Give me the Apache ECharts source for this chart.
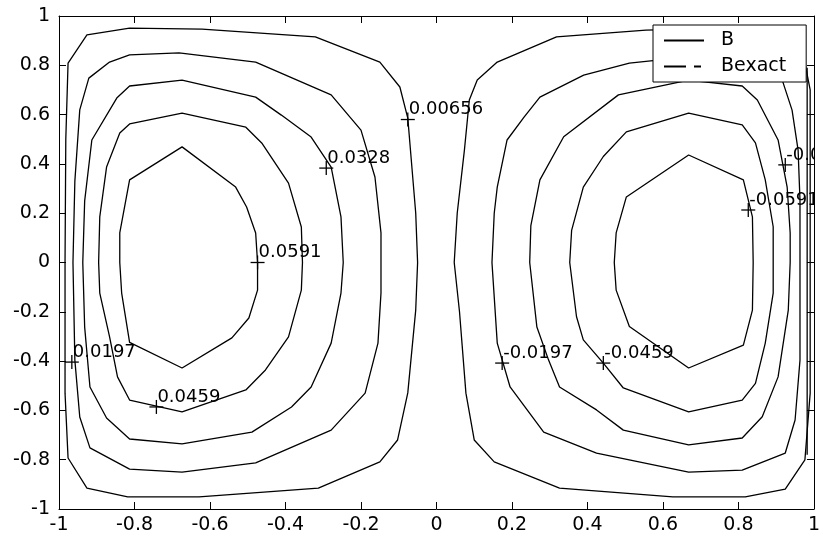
<!DOCTYPE html>
<html><head><meta charset="utf-8">
<script src="https://cdn.jsdelivr.net/npm/echarts@6/dist/echarts.min.js"></script>
<style>html,body{margin:0;padding:0;background:#fff}#c{width:823px;height:538px}</style>
</head><body><div id="c"></div>
<script>
// Tick labels
const xTickLabels = ['-1','-0.8','-0.6','-0.4','-0.2','0','0.2','0.4','0.6','0.8','1'];
const yTickLabels = ['-1','-0.8','-0.6','-0.4','-0.2','0','0.2','0.4','0.6','0.8','1'];

// Contour levels (left: positive, right: negative)
const levels = [0.00656, 0.0197, 0.0328, 0.0459, 0.0591];

// Left contours (B = +level)
const cL1 = [[-0.984,0],[-0.982,0.5],[-0.976,0.809],[-0.926,0.923],[-0.813,0.951],[-0.621,0.947],[-0.321,0.915],[-0.15,0.813],[-0.097,0.712],[-0.076,0.586],[-0.055,0.201],[-0.05,0],[-0.055,-0.193],[-0.076,-0.529],[-0.103,-0.72],[-0.15,-0.809],[-0.313,-0.915],[-0.629,-0.951],[-0.818,-0.951],[-0.926,-0.915],[-0.976,-0.793],[-0.984,-0.53],[-0.984,0]];
const cL2 = [[-0.963,0],[-0.958,0.33],[-0.945,0.619],[-0.921,0.748],[-0.866,0.813],[-0.813,0.842],[-0.682,0.85],[-0.479,0.813],[-0.279,0.68],[-0.2,0.537],[-0.163,0.347],[-0.147,0.12],[-0.147,0],[-0.147,-0.124],[-0.155,-0.327],[-0.189,-0.53],[-0.279,-0.68],[-0.479,-0.813],[-0.674,-0.85],[-0.813,-0.838],[-0.918,-0.752],[-0.945,-0.627],[-0.958,-0.396],[-0.963,0]];
const cL3 = [[-0.937,0],[-0.932,0.25],[-0.913,0.497],[-0.847,0.667],[-0.813,0.716],[-0.674,0.74],[-0.479,0.671],[-0.411,0.598],[-0.332,0.509],[-0.279,0.387],[-0.253,0.185],[-0.247,0],[-0.253,-0.124],[-0.279,-0.327],[-0.332,-0.505],[-0.384,-0.586],[-0.489,-0.688],[-0.674,-0.736],[-0.813,-0.716],[-0.874,-0.631],[-0.918,-0.505],[-0.932,-0.262],[-0.937,0]];
const cL4 = [[-0.895,0],[-0.892,0.185],[-0.874,0.387],[-0.839,0.525],[-0.813,0.562],[-0.674,0.606],[-0.505,0.549],[-0.463,0.485],[-0.392,0.322],[-0.358,0.144],[-0.355,0],[-0.358,-0.112],[-0.392,-0.302],[-0.453,-0.436],[-0.505,-0.517],[-0.674,-0.606],[-0.813,-0.558],[-0.845,-0.464],[-0.866,-0.302],[-0.892,-0.124],[-0.895,0]];
const cL5 = [[-0.839,0],[-0.839,0.12],[-0.813,0.335],[-0.674,0.469],[-0.532,0.306],[-0.503,0.225],[-0.479,0.12],[-0.474,0],[-0.474,-0.112],[-0.497,-0.225],[-0.542,-0.306],[-0.674,-0.428],[-0.813,-0.324],[-0.834,-0.124],[-0.839,0]];

// Right contours (B = -level)
const cR1 = [[0.047,0],[0.055,0.201],[0.074,0.456],[0.087,0.659],[0.108,0.74],[0.161,0.813],[0.318,0.915],[0.555,0.943],[0.74,0.95],[0.926,0.923],[0.976,0.809],[0.99,0.7],[0.99,0],[0.99,-0.53],[0.976,-0.801],[0.924,-0.919],[0.818,-0.951],[0.626,-0.951],[0.326,-0.915],[0.153,-0.809],[0.1,-0.72],[0.078,-0.53],[0.061,-0.2],[0.047,0]];
const cR2 = [[0.147,0],[0.153,0.2],[0.161,0.306],[0.187,0.497],[0.232,0.59],[0.274,0.671],[0.39,0.76],[0.511,0.809],[0.668,0.834],[0.81,0.84],[0.866,0.813],[0.916,0.74],[0.942,0.618],[0.958,0.456],[0.963,0.253],[0.963,0],[0.963,-0.396],[0.95,-0.639],[0.924,-0.773],[0.81,-0.842],[0.668,-0.85],[0.424,-0.773],[0.284,-0.688],[0.195,-0.505],[0.161,-0.327],[0.147,0]];
const cR3 = [[0.247,0],[0.25,0.15],[0.274,0.335],[0.337,0.51],[0.482,0.68],[0.668,0.74],[0.81,0.716],[0.85,0.659],[0.905,0.497],[0.929,0.306],[0.937,0.12],[0.937,0],[0.932,-0.193],[0.905,-0.464],[0.863,-0.626],[0.81,-0.712],[0.668,-0.74],[0.495,-0.68],[0.424,-0.598],[0.326,-0.505],[0.297,-0.396],[0.266,-0.262],[0.247,0]];
const cR4 = [[0.353,0],[0.358,0.13],[0.389,0.306],[0.442,0.43],[0.503,0.53],[0.668,0.606],[0.81,0.558],[0.845,0.485],[0.871,0.335],[0.892,0.145],[0.892,0],[0.892,-0.124],[0.871,-0.327],[0.845,-0.49],[0.81,-0.558],[0.668,-0.606],[0.495,-0.509],[0.442,-0.408],[0.389,-0.314],[0.371,-0.22],[0.353,0]];
const cR5 = [[0.471,0],[0.476,0.12],[0.503,0.266],[0.668,0.436],[0.813,0.335],[0.837,0.185],[0.839,0],[0.837,-0.193],[0.813,-0.335],[0.668,-0.428],[0.511,-0.26],[0.476,-0.112],[0.471,0]];
const cEdge = [[0.982,0.79],[0.982,-0.78]];

// Contour labels (clabel)
const labelX = [-0.474, -0.292, -0.076, -0.966, -0.742, 0.174, 0.442, 0.826, 0.924];
const labelY = [0, 0.383, 0.58, -0.404, -0.586, -0.408, -0.408, 0.213, 0.396];
const labelText = ['0.0591','0.0328','0.00656','0.0197','0.0459','-0.0197','-0.0459','-0.0591','-0.0328'];

const contours = [cL1,cL2,cL3,cL4,cL5,cR1,cR2,cR3,cR4,cR5,cEdge];

const chart = echarts.init(document.getElementById('c'), null, {renderer:'canvas'});
const FONT = 'DejaVu Sans';
const lineSeries = contours.map(c => ({
  type:'line', name:'B', data:c, symbol:'none', clip:true,
  lineStyle:{color:'#000', width:1.3}, itemStyle:{color:'#000'},
  silent:true, z:2
}));
const exactSeries = {
  type:'line', name:'Bexact', data:[], symbol:'none',
  lineStyle:{color:'#000', width:1.3, type:[22,8,7,20]}, itemStyle:{color:'#000'}
};
const labelSeries = {
  type:'custom', name:'labels', clip:true, z:3, silent:true,
  data: labelX.map((x,i)=>[x,labelY[i]]),
  renderItem:(params, api) => {
    const p = api.coord([api.value(0), api.value(1)]);
    const st = {stroke:'#000', lineWidth:1.3};
    return {type:'group', children:[
      {type:'line', shape:{x1:p[0]-7,y1:p[1],x2:p[0]+7,y2:p[1]}, style:st},
      {type:'line', shape:{x1:p[0],y1:p[1]-7,x2:p[0],y2:p[1]+7}, style:st},
      {type:'text', x:p[0]+1, y:p[1]-1, style:{text:labelText[params.dataIndex], fontSize:18, fontFamily:FONT, fill:'#000', align:'left', verticalAlign:'bottom'}}
    ]};
  }
};
const fmt = labels => v => labels[Math.round((v + 1) / 0.2)];
const axisCommon = {
  type:'value', min:-1, max:1, interval:0.2,
  axisLine:{show:true, onZero:false, lineStyle:{color:'#000', width:1}},
  axisTick:{show:true, inside:true, length:7, lineStyle:{color:'#000', width:1}},
  splitLine:{show:false}
};
chart.setOption({
  animation:false,
  backgroundColor:'#fff',
  grid:{left:59, right:4, top:16, bottom:29, containLabel:false},
  xAxis:[
    Object.assign({}, axisCommon, {position:'bottom', axisLabel:{color:'#000', fontSize:19, fontFamily:FONT, margin:7, formatter:fmt(xTickLabels)}}),
    Object.assign({}, axisCommon, {position:'top', axisLabel:{show:false}})
  ],
  yAxis:[
    Object.assign({}, axisCommon, {position:'left', axisLabel:{color:'#000', fontSize:19, fontFamily:FONT, margin:9, formatter:fmt(yTickLabels)}}),
    Object.assign({}, axisCommon, {position:'right', axisLabel:{show:false}})
  ],
  legend:{
    left:653, top:25, orient:'vertical', itemWidth:40, itemHeight:14, itemGap:7,
    padding:[6,20,6,10], borderColor:'#000', borderWidth:1, borderRadius:0, backgroundColor:'#fff',
    itemStyle:{opacity:0},
    textStyle:{fontSize:19, fontFamily:FONT, color:'#000', padding:[0,0,0,12]},
    data:['B','Bexact'], selectedMode:false
  },
  series: lineSeries.concat([exactSeries, labelSeries])
});
</script></body></html>
